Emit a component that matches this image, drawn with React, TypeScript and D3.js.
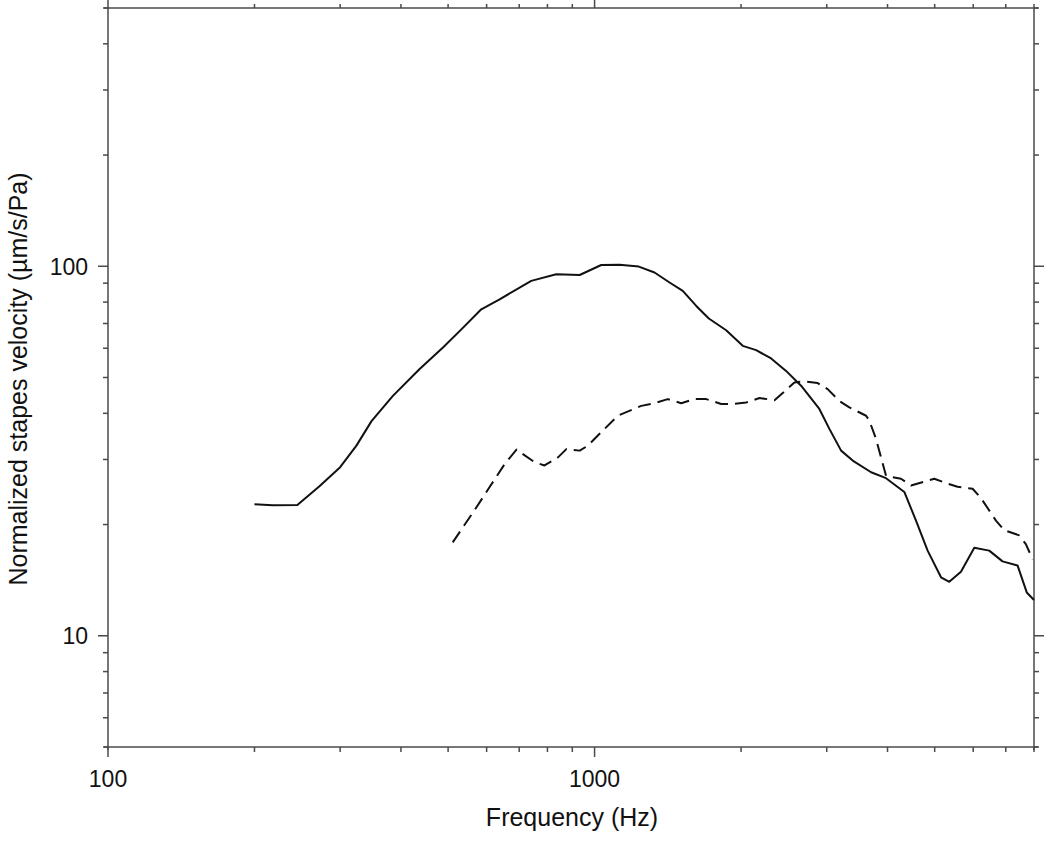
import React from "react";
import * as d3 from "d3";

// Solid curve: frequency (Hz), normalized stapes velocity (µm/s/Pa)
const solidFreq = [200, 218, 245, 272, 300, 324, 348, 385, 437, 488, 533, 585, 638, 741, 834, 932, 1032, 1125, 1233, 1328, 1426, 1518, 1618, 1717, 1864, 2016, 2148, 2306, 2475, 2657, 2897, 3038, 3211, 3392, 3701, 3972, 4331, 4577, 4836, 5152, 5358, 5662, 6031, 6473, 6893, 7400, 7730, 8000];
const solidVel = [22.7, 22.55, 22.6, 25.4, 28.6, 32.7, 38.1, 44.6, 52.7, 60.3, 67.6, 76.5, 81.4, 91.3, 95.1, 94.7, 100.8, 100.9, 99.8, 96.2, 90.4, 85.8, 78.1, 72.2, 67.1, 60.9, 59.3, 56.3, 52.1, 47.5, 41.1, 36.3, 31.7, 29.8, 27.7, 26.7, 24.5, 20.5, 17.0, 14.4, 14.0, 14.9, 17.3, 17.0, 15.9, 15.5, 13.1, 12.5];

// Dashed curve
const dashFreq = [511, 567, 609, 654, 691, 753, 789, 841, 875, 932, 969, 1024, 1116, 1247, 1328, 1414, 1507, 1605, 1696, 1820, 1923, 2049, 2183, 2343, 2436, 2574, 2699, 2874, 3013, 3185, 3339, 3614, 3671, 3788, 3972, 4264, 4471, 4991, 5315, 5572, 5983, 6223, 6681, 6950, 7459, 7698, 7950];
const dashVel = [17.9, 21.9, 25.3, 29.2, 31.9, 29.5, 28.9, 30.4, 32.0, 31.7, 32.7, 35.2, 39.4, 41.9, 42.6, 43.7, 42.6, 43.7, 43.7, 42.4, 42.4, 42.8, 44.0, 43.4, 45.4, 48.5, 48.8, 48.3, 46.5, 43.2, 41.5, 39.4, 38.2, 34.1, 27.1, 26.6, 25.5, 26.6, 25.8, 25.3, 25.0, 23.6, 20.5, 19.3, 18.7, 17.7, 16.1];

const xDomain = [100, 8000];
const yDomain = [5, 500];
const xMajor = [100, 1000];
const yMajor = [10, 100];
const xTitle = "Frequency (Hz)";
const yTitle = "Normalized stapes velocity (µm/s/Pa)";

export default function App() {
  const W = 1050, H = 842;
  const left = 108, right = 1034, top = 8, bottom = 747;
  const x = d3.scaleLog().domain(xDomain).range([left, right]);
  const y = d3.scaleLog().domain(yDomain).range([bottom, top]);
  const xt = x.ticks();
  const yt = y.ticks();
  const axisColor = "#4a4a4a";
  const font = "'Liberation Sans', Arial, sans-serif";

  const line = d3
    .line<[number, number]>()
    .x((d) => x(d[0]))
    .y((d) => y(d[1]));
  const solid = solidFreq.map((f, i) => [f, solidVel[i]] as [number, number]);
  const dashed = dashFreq.map((f, i) => [f, dashVel[i]] as [number, number]);
  const isMajorX = (v: number) => xMajor.some((m) => Math.abs(m - v) < 1e-6);
  const isMajorY = (v: number) => yMajor.some((m) => Math.abs(m - v) < 1e-6);

  return (
    <svg
      width={W}
      height={H}
      style={{ position: "absolute", left: 0, top: 0, background: "#fff" }}
    >
      <rect x={0} y={0} width={W} height={H} fill="#fff" />
      {/* frame */}
      <g stroke={axisColor} strokeWidth={1.5} fill="none">
        <line x1={left - 4} x2={right + 4} y1={top} y2={top} />
        <line x1={left - 4} x2={right + 4} y1={bottom} y2={bottom} />
        <line x1={left} x2={left} y1={top} y2={bottom + 3} />
        <line x1={right} x2={right} y1={top} y2={bottom + 3} />
      </g>
      {/* x ticks */}
      <g stroke={axisColor} strokeWidth={1.5}>
        {xt.map((v, i) => {
          const px = x(v);
          const maj = isMajorX(v);
          return (
            <g key={"xt" + i}>
              <line x1={px} x2={px} y1={bottom} y2={bottom + (maj ? 10 : 5)} />
              <line x1={px} x2={px} y1={top} y2={top - (maj ? 8 : 4)} />
            </g>
          );
        })}
        {yt.map((v, i) => {
          const py = y(v);
          const maj = isMajorY(v);
          return (
            <g key={"yt" + i}>
              <line x1={left} x2={left - (maj ? 10 : 5)} y1={py} y2={py} />
              <line x1={right} x2={right + (maj ? 10 : 5)} y1={py} y2={py} />
            </g>
          );
        })}
      </g>
      {/* tick labels */}
      <g fontFamily={font} fontSize={23} fill="#111">
        {xMajor.map((v) => (
          <text key={"xl" + v} x={x(v)} y={787} textAnchor="middle">
            {v}
          </text>
        ))}
        {yMajor.map((v) => (
          <text key={"yl" + v} x={88} y={y(v) + 8.5} textAnchor="end">
            {v}
          </text>
        ))}
      </g>
      {/* titles */}
      <text
        x={572}
        y={826}
        textAnchor="middle"
        fontFamily={font}
        fontSize={25}
        fill="#111"
      >
        {xTitle}
      </text>
      <text
        transform={`translate(27,379) rotate(-90)`}
        textAnchor="middle"
        fontFamily={font}
        fontSize={25}
        fill="#111"
      >
        {yTitle}
      </text>
      {/* data */}
      <path d={line(solid) || ""} fill="none" stroke="#111" strokeWidth={2} strokeLinejoin="round" />
      <path
        d={line(dashed) || ""}
        fill="none"
        stroke="#111"
        strokeWidth={2}
        strokeDasharray="13,7"
        strokeLinejoin="round"
      />
    </svg>
  );
}
